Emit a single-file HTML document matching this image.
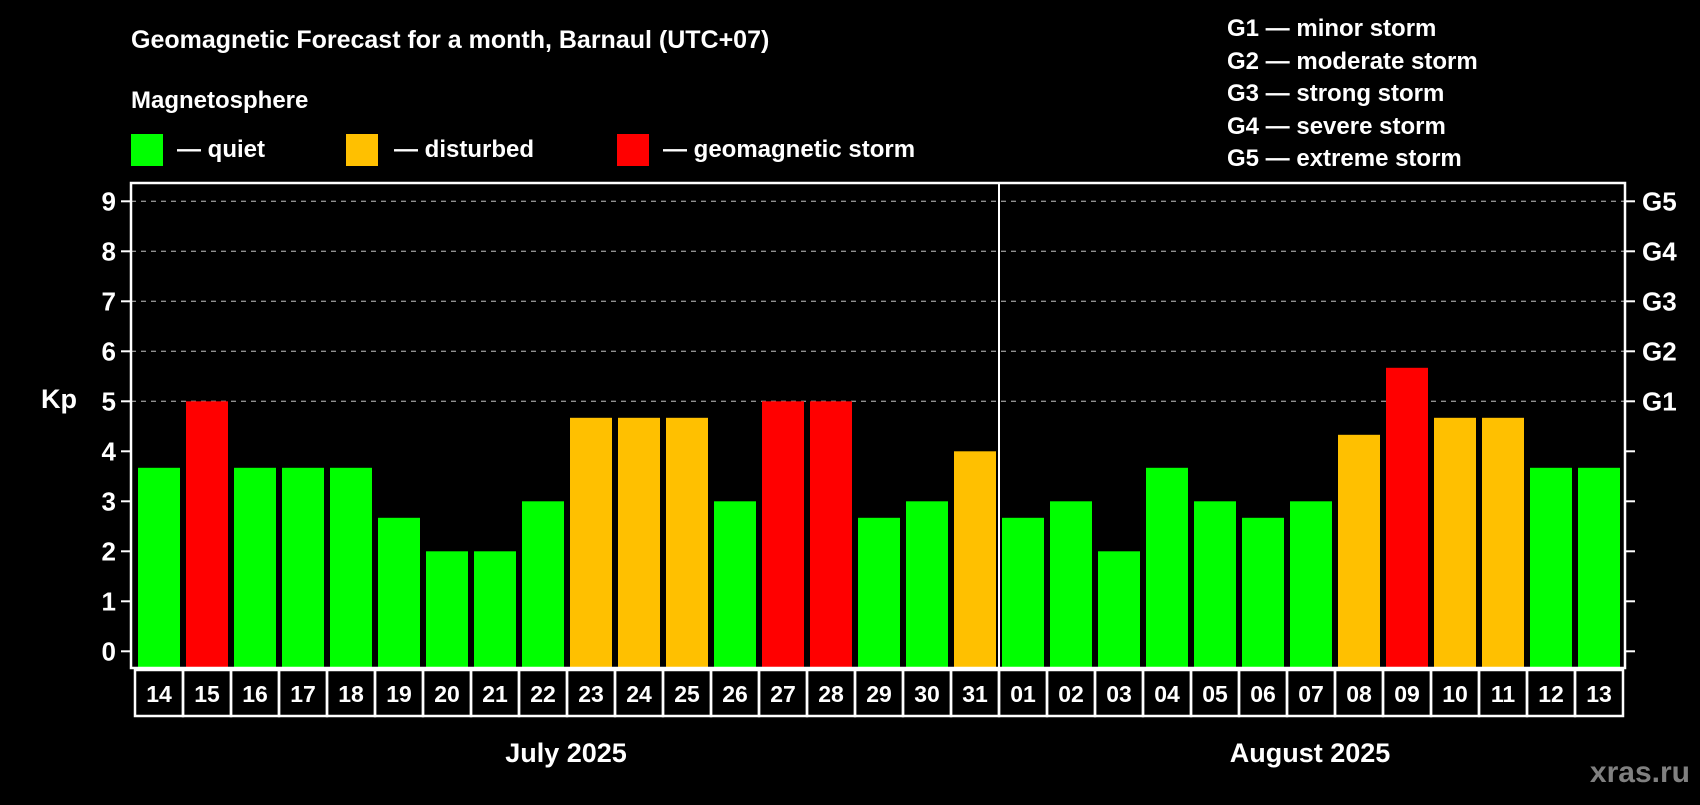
<!DOCTYPE html>
<html><head><meta charset="utf-8"><style>
body{margin:0;background:#000;width:1700px;height:800px;overflow:hidden}
svg text{font-family:"Liberation Sans",Arial,sans-serif;font-weight:bold;fill:#fff}
</style></head><body>
<svg id="chart" width="1700" height="800" xmlns="http://www.w3.org/2000/svg">
<text x="131" y="48" font-size="25">Geomagnetic Forecast for a month, Barnaul (UTC+07)</text>
<text x="131" y="108" font-size="24">Magnetosphere</text>
<rect x="131" y="134" width="32" height="32" fill="#00ff00"/>
<text x="177" y="157" font-size="24">— quiet</text>
<rect x="346" y="134" width="32" height="32" fill="#ffc000"/>
<text x="394" y="157" font-size="24">— disturbed</text>
<rect x="617" y="134" width="32" height="32" fill="#ff0000"/>
<text x="663" y="157" font-size="24">— geomagnetic storm</text>
<g font-size="24">
<text x="1227" y="36">G1 — minor storm</text>
<text x="1227" y="69">G2 — moderate storm</text>
<text x="1227" y="101">G3 — strong storm</text>
<text x="1227" y="134">G4 — severe storm</text>
<text x="1227" y="166">G5 — extreme storm</text>
</g>
<text x="41" y="408" font-size="27">Kp</text>
<g id="grid"></g><g id="bars"></g><g id="axes"></g>
<text x="566" y="762" font-size="27" text-anchor="middle">July 2025</text>
<text x="1310" y="762" font-size="27" text-anchor="middle">August 2025</text>
<text x="1690" y="782" font-size="30" text-anchor="end" style="fill:#808080">xras.ru</text>
</svg>
<script>
const days=["14","15","16","17","18","19","20","21","22","23","24","25","26","27","28","29","30","31","01","02","03","04","05","06","07","08","09","10","11","12","13"];
const kp=[3.67,5,3.67,3.67,3.67,2.67,2,2,3,4.67,4.67,4.67,3,5,5,2.67,3,4,2.67,3,2,3.67,3,2.67,3,4.33,5.67,4.67,4.67,3.67,3.67];
const yTicks=[0,1,2,3,4,5,6,7,8,9];
const gLabels=["G1","G2","G3","G4","G5"];
const NS="http://www.w3.org/2000/svg";
const L=131,R=1625,T=183,B=668;
const y=v=>651.3-v*50;
const x=i=>138+i*48;
function mk(t,a,p){const e=document.createElementNS(NS,t);for(const k in a)e.setAttribute(k,a[k]);p.appendChild(e);return e;}
const grid=document.getElementById('grid'),bars=document.getElementById('bars'),axes=document.getElementById('axes');
function col(v){return v>=5?"#ff0000":v>=4?"#ffc000":"#00ff00";}
yTicks.forEach(v=>{
  if(v>=5){const g=mk('line',{x1:L,x2:R,y1:y(v),y2:y(v),stroke:'#909090','stroke-dasharray':'5,5','stroke-width':1.3},grid);
  
  }
  const t1=mk('line',{x1:L-10,x2:L,y1:y(v),y2:y(v),stroke:'#fff','stroke-width':2},axes);
  
  
  const t2=mk('line',{x1:R,x2:R+10,y1:y(v),y2:y(v),stroke:'#fff','stroke-width':2},axes);
  
  
  const tl=mk('text',{x:116,y:y(v)+9,'font-size':26,'text-anchor':'end'},axes);tl.textContent=v;
  
  
});
gLabels.forEach((g,i)=>{const t=mk('text',{x:1642,y:y(5+i)+9,'font-size':26},axes);t.textContent=g;
  
  });
kp.forEach((v,i)=>{
  const r=mk('rect',{x:x(i),y:y(v),width:42,height:y(0)-y(v)+16.7,fill:col(v)},bars);
  
  
  const b=mk('rect',{x:x(i)-3,y:670,width:48,height:46,fill:'none',stroke:'#fff','stroke-width':2.5},axes);
  
  
  const t=mk('text',{x:x(i)+21,y:702,'font-size':23,'text-anchor':'middle'},axes);t.textContent=days[i];
  
  
});
const f=mk('rect',{x:L,y:T,width:R-L,height:B-T,fill:'none',stroke:'#fff','stroke-width':2.5},axes);


const d=mk('line',{x1:x(18)-3,x2:x(18)-3,y1:T,y2:B,stroke:'#fff','stroke-width':2},axes);


</script>
</body></html>
